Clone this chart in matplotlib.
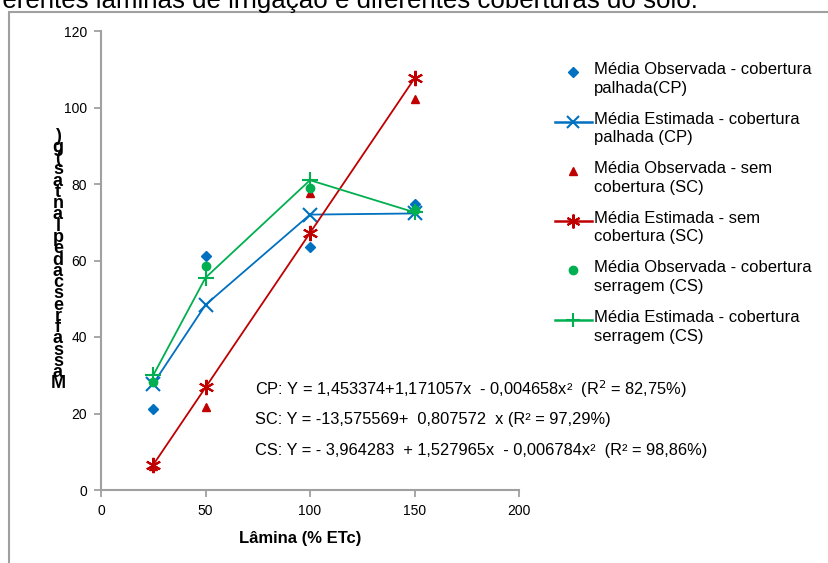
import matplotlib
matplotlib.use("Agg")
import matplotlib.pyplot as plt
from matplotlib.patches import Rectangle

plt.rcParams['font.family'] = ['Liberation Sans', 'DejaVu Sans']

# ---------------- dados ----------------
lamina = [25, 50, 100, 150]
cp_obs = [21.1, 61.2, 63.6, 74.8]
cp_est = [27.8, 48.4, 72.0, 72.3]
sc_obs = [6.3, 21.8, 77.7, 102.1]
sc_est = [6.6, 26.8, 67.2, 107.6]
cs_obs = [28.3, 58.6, 78.9, 73.2]
cs_est = [30.0, 55.5, 81.0, 72.6]

legenda = [
    "Média Observada - cobertura\npalhada(CP)",
    "Média Estimada - cobertura\npalhada (CP)",
    "Média Observada - sem\ncobertura (SC)",
    "Média Estimada - sem\ncobertura (SC)",
    "Média Observada - cobertura\nserragem (CS)",
    "Média Estimada - cobertura\nserragem (CS)",
]
equacoes = [
    "CP: Y = 1,453374+1,171057x  - 0,004658x²  (R$^2$ = 82,75%)",
    "SC: Y = -13,575569+  0,807572  x (R² = 97,29%)",
    "CS: Y = - 3,964283  + 1,527965x  - 0,006784x²  (R² = 98,86%)",
]
titulo = "diferentes lâminas de irrigação e diferentes coberturas do solo."
ylabel = "Massa fresca de plantas (g)"

azul = "#0070C0"
verm = "#C00000"
verde = "#00B050"
cinza = "#A0A0A0"

W, H = 829, 563
fig = plt.figure(figsize=(W / 100, H / 100), dpi=100)

# moldura do gráfico (cortada)
fig.patches.append(Rectangle((9 / W, -0.2), 1.2, 1.2 - 12 / H, transform=fig.transFigure,
                             fill=False, edgecolor=cinza, lw=1.5))
fig.text(698 / W, 1 - 8 / H, titulo, ha="right", va="baseline", fontsize=18.6)

ax = fig.add_axes([101 / W, 1 - 490 / H, 418 / W, 459 / H])

# series
ax.plot(lamina, cp_obs, ls="none", marker="D", ms=5, color=azul)
ax.plot(lamina, cp_est, color=azul, lw=1.3, marker="x", ms=10, mew=1.5)
ax.plot(lamina, sc_obs, ls="none", marker="^", ms=6, color=verm)
ax.plot(lamina, sc_est, color=verm, lw=1.3, marker=(6, 2, 0), ms=11, mew=1.5)
ax.plot(lamina, cs_obs, ls="none", marker="o", ms=6, color=verde)
ax.plot(lamina, cs_est, color=verde, lw=1.3, marker="+", ms=11, mew=1.5)

ax.set_xlim(0, 200)
ax.set_ylim(0, 120)
ax.set_xticks(range(0, 201, 50))
ax.set_yticks(range(0, 121, 20))
for s in ["top", "right"]:
    ax.spines[s].set_visible(False)
for s in ["left", "bottom"]:
    ax.spines[s].set_color(cinza)
    ax.spines[s].set_linewidth(1.5)
ax.tick_params(direction="out", length=5, width=1.3, color=cinza, labelsize=10, pad=5)
fig.text(300 / W, 1 - 538 / H, "Lâmina (% ETc)", ha="center", va="center",
         fontsize=12, fontweight="bold")

# rótulo do eixo y empilhado (de baixo para cima)
letras = [c for c in ylabel if c != " "]
topo, base = 1 - 136 / H, 1 - 384 / H
passo = (topo - base) / (len(letras) - 1)
for i, c in enumerate(letras):
    fig.text(58 / W, base + i * passo, c, ha="center", va="center",
             fontsize=13, fontweight="bold")

# equações
for i, eq in enumerate(equacoes):
    fig.text(255 / W, 1 - (389 + i * 30.5) / H, eq, ha="left", va="center", fontsize=11.8)

# legenda manual
lax = fig.add_axes([0, 0, 1, 1])
lax.set_xlim(0, W)
lax.set_ylim(H, 0)
lax.axis("off")
estilos = [
    dict(ls="none", marker="D", ms=5, color=azul),
    dict(color=azul, lw=1.8, marker="x", ms=9, mew=1.5),
    dict(ls="none", marker="^", ms=6, color=verm),
    dict(color=verm, lw=1.8, marker=(6, 2, 0), ms=10, mew=1.5),
    dict(ls="none", marker="o", ms=6, color=verde),
    dict(color=verde, lw=1.8, marker="+", ms=10, mew=1.5),
]
y0 = 72
for i, (lab, st) in enumerate(zip(legenda, estilos)):
    y = y0 + i * 49.6
    lax.plot([555, 573, 592], [y, y, y], markevery=[1], **st)
    lax.text(594, y - 10, lab, ha="left", va="top", fontsize=12, linespacing=1.3)

fig.savefig("out.png", dpi=100)
